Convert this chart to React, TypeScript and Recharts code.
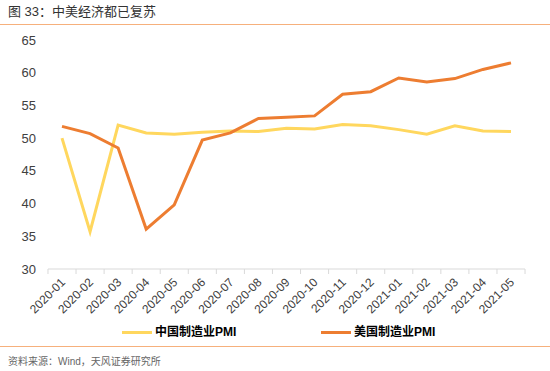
import React from 'react';
import { LineChart, Line, XAxis, YAxis } from 'recharts';

const months = [
  '2020-01', '2020-02', '2020-03', '2020-04', '2020-05', '2020-06', '2020-07', '2020-08', '2020-09',
  '2020-10', '2020-11', '2020-12', '2021-01', '2021-02', '2021-03', '2021-04', '2021-05',
];
const chinaPmi = [50.0, 35.7, 52.0, 50.8, 50.6, 50.9, 51.1, 51.0, 51.5, 51.4, 52.1, 51.9, 51.3, 50.6, 51.9, 51.1, 51.0];
const usPmi = [51.8, 50.7, 48.5, 36.1, 39.8, 49.7, 50.8, 53.0, 53.2, 53.4, 56.7, 57.1, 59.2, 58.6, 59.1, 60.5, 61.5];
const yTicks = [30, 35, 40, 45, 50, 55, 60, 65];

const CHINA = '#FFD75E';
const US = '#ED7D31';
const FONT = "'Liberation Sans', 'Noto Sans CJK SC', sans-serif";

const data = months.map((m, i) => ({ month: m, china: chinaPmi[i], us: usPmi[i] }));

const STEP = 28.06;

// etiqueta girada + marca de división entre categorías
const MonthTick = (props: any) => {
  const { x, y, payload, index } = props;
  const last = index === months.length - 1;
  return (
    <g>
      <line x1={x - STEP / 2} y1={y - 8} x2={x - STEP / 2} y2={y - 3} stroke="#d9d9d9" />
      {last && <line x1={x + STEP / 2} y1={y - 8} x2={x + STEP / 2} y2={y - 3} stroke="#d9d9d9" />}
      <text
        x={x + 4}
        y={y + 6}
        textAnchor="end"
        fontSize={12}
        fill="#404040"
        fontFamily={FONT}
        transform={`rotate(-45, ${x + 4}, ${y + 6})`}
      >
        {payload.value}
      </text>
    </g>
  );
};

const LegendItem = ({ color, label, left }: { color: string; label: string; left: number }) => (
  <div style={{ position: 'absolute', left, top: 324, display: 'flex', alignItems: 'center', lineHeight: '16px' }}>
    <div style={{ width: 30, height: 3, background: color, marginRight: 3 }} />
    <span style={{ fontSize: 12, fontWeight: 700, color: '#000' }}>{label}</span>
  </div>
);

export default function App() {
  return (
    <div style={{ position: 'fixed', left: 0, top: 0, width: 550, height: 371, background: '#fff', fontFamily: FONT }}>
      <div style={{ position: 'absolute', left: 8, top: 3, fontSize: 13, color: '#333', lineHeight: '18px', whiteSpace: 'nowrap' }}>
        图 33：中美经济都已复苏
      </div>
      <div style={{ position: 'absolute', left: 0, top: 24, width: 550, height: 1, background: '#F6B07C' }} />

      <div style={{ position: 'absolute', left: 0, top: 0 }}>
        <LineChart width={550} height={320} data={data} margin={{ top: 40, right: 25, bottom: 0, left: 0 }}>
          <XAxis
            dataKey="month"
            padding={{ left: 14, right: 14 }}
            axisLine={{ stroke: '#d9d9d9' }}
            tickLine={false}
            tick={<MonthTick />}
            interval={0}
            height={51}
          />
          <YAxis
            domain={[30, 65]}
            ticks={yTicks}
            width={48}
            axisLine={false}
            tickLine={false}
            tickMargin={6}
            tick={{ fontSize: 13, fill: '#404040', fontFamily: FONT }}
          />
          <Line dataKey="china" stroke={CHINA} strokeWidth={3} dot={false} isAnimationActive={false} />
          <Line dataKey="us" stroke={US} strokeWidth={3} dot={false} isAnimationActive={false} />
        </LineChart>
      </div>

      <LegendItem color={CHINA} label="中国制造业PMI" left={122} />
      <LegendItem color={US} label="美国制造业PMI" left={321} />

      <div style={{ position: 'absolute', left: 0, top: 346, width: 550, height: 1, background: '#F6B07C' }} />
      <div style={{ position: 'absolute', left: 8, top: 355, fontSize: 10, color: '#666', lineHeight: '14px', whiteSpace: 'nowrap' }}>
        资料来源：Wind，天风证券研究所
      </div>
    </div>
  );
}
